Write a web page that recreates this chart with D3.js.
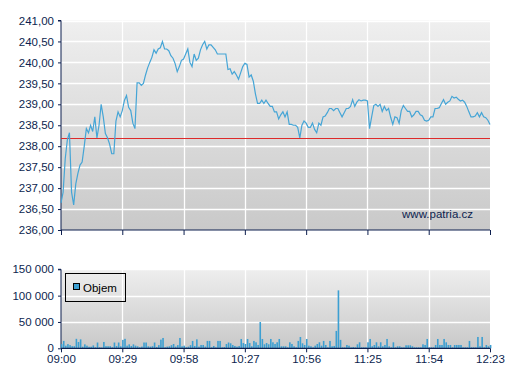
<!DOCTYPE html>
<html><head><meta charset="utf-8">
<script src="https://cdn.jsdelivr.net/npm/d3@7"></script>
<style>
html,body{margin:0;padding:0;background:#fff;}
svg{display:block;font-family:"Liberation Sans",Arial,sans-serif;}
</style></head>
<body><svg id="chart" width="507" height="380"></svg>
<script>
// ---- data ----
const startTime = "09:00";
const xTickLabels = ["09:00","09:29","09:58","10:27","10:56","11:25","11:54","12:23"];
const priceTicks = [236,236.5,237,237.5,238,238.5,239,239.5,240,240.5,241];
const volumeTicks = [0,50000,100000,150000];
const referencePrice = 238.2;
const legendLabel = "Objem";
const watermark = "www.patria.cz";
// one value per minute from 09:00
const priceValues = [
236.65,236.9,237.7,238.15,238.32,236.9,236.6,237.1,237.35,237.55,
237.62,238.0,238.42,238.32,238.5,238.35,238.7,238.2,238.5,239.0,
238.7,238.3,238.2,238.05,237.82,237.82,238.6,238.82,238.7,238.85,
239.09,239.21,238.93,238.85,238.55,238.42,239.51,239.51,239.45,239.5,
239.7,239.87,240.0,240.12,240.3,240.22,240.32,240.35,240.5,240.32,
240.32,240.28,240.16,240.1,239.97,239.78,239.9,240.05,240.08,240.2,
240.32,240.0,239.9,240.2,240.05,240.1,240.3,240.42,240.5,240.32,
240.42,240.42,240.36,240.3,240.2,240.2,240.2,240.2,240.2,239.83,
239.85,239.72,239.78,239.7,239.6,239.75,239.9,239.98,239.95,239.65,
239.7,239.55,239.25,239.02,239.02,239.1,239.02,239.1,239.02,238.95,
238.95,238.82,238.82,238.65,238.75,238.82,238.7,238.82,238.52,238.52,
238.5,238.5,238.45,238.2,238.5,238.6,238.55,238.45,238.45,238.55,
238.4,238.32,238.55,238.5,238.7,238.72,238.8,238.9,238.9,238.85,
238.9,238.9,238.8,238.7,238.8,238.9,238.9,238.95,239.11,238.95,
239.05,239.11,239.08,239.1,239.1,239.08,238.42,238.7,238.97,239.0,
238.95,239.0,238.83,238.95,238.85,238.9,238.69,238.52,238.7,238.68,
238.55,238.85,238.97,238.9,238.83,238.83,238.7,238.75,238.83,238.83,
238.75,238.72,238.62,238.6,238.62,238.7,238.7,238.9,238.9,238.92,
239.02,239.11,239.0,239.05,239.08,239.19,239.15,239.17,239.12,239.08,
239.1,239.05,238.95,238.82,238.7,238.7,238.72,238.8,238.7,238.8,
238.7,238.68,238.62,238.52];
const volumeValues = [
8000,14000,5000,8000,6000,4000,4000,18000,12000,17000,
3000,7500,5000,3000,3000,5500,2000,11000,2000,1500,
12000,4000,4000,4000,2000,11000,4400,11000,3800,16000,
18000,5000,7500,4400,7500,5000,3800,2000,3200,11000,
11000,3800,3200,4000,11000,2500,6000,16500,19600,2000,
3200,3800,6000,8200,3200,6000,19600,3800,5000,2000,
3200,6000,14000,4400,17000,3200,6300,6300,3200,14000,
14000,1900,4400,1900,14000,14000,1900,2500,8200,11000,
9500,6300,4400,3200,4400,17700,10000,8200,17700,10000,
3800,14000,11400,6300,50000,17700,7600,10000,7600,17700,
11400,8200,11400,17700,3800,3800,3800,1900,11400,8200,
3800,1900,14000,21500,9500,6300,17700,5000,3800,1900,
5000,8200,11400,5000,14000,6300,1900,14000,3800,4400,
33000,110000,16000,1900,1900,6300,5000,1900,2500,1900,
7600,11400,1900,1900,1900,11400,17700,3800,6300,11400,
3800,11400,3800,6300,17700,3800,1900,11400,1900,3800,
3800,1900,1900,5700,5700,5700,3800,1900,1900,1900,
1900,7600,6300,17700,1900,1900,1900,6300,17700,6300,
6300,17700,11400,6300,6300,1900,6300,6300,6300,6300,
1900,1900,1900,14000,1900,1900,1900,21500,3800,21500,
1900,6300,3800,6300];

// ---- helpers ----
const toMin = s => { const [h,m] = s.split(":").map(Number); return h*60+m; };
const t0 = toMin(startTime);
const tickMinutes = xTickLabels.map(s => toMin(s) - t0);
const fmtNum = d3.formatLocale({decimal:",", thousands:" ", grouping:[3], currency:["",""]});
const fmtPrice = fmtNum.format(",.2f");
const fmtVol = fmtNum.format(",.0f");

const svg = d3.select("#chart");
const navy = "#0d1f4f";
const L = 61, R = 490;
const x = d3.scaleLinear().domain([0, tickMinutes[tickMinutes.length-1]]).range([L, R]);
const y = d3.scaleLinear().domain([236, 241]).range([230, 20.5]);
const yv = d3.scaleLinear().domain([0, 150000]).range([348.3, 269.3]);

const defs = svg.append("defs");
function grad(id, c1, c2) {
  const g = defs.append("linearGradient").attr("id", id).attr("x1",0).attr("y1",0).attr("x2",0).attr("y2",1);
  g.append("stop").attr("offset","0%").attr("stop-color",c1);
  g.append("stop").attr("offset","100%").attr("stop-color",c2);
}
grad("bg1", "#efefef", "#c9c9c9");
grad("bg2", "#eeeeee", "#c9c9c9");

function panel(yScale, ticks, fmt, bgId, top, bottom) {
  svg.append("rect").attr("x", L).attr("y", top).attr("width", R - L).attr("height", bottom - top)
    .attr("fill", `url(#${bgId})`);
  // horizontal grid
  svg.append("g").selectAll("line").data(ticks.slice(1)).join("line")
    .attr("x1", L).attr("x2", R)
    .attr("y1", d => Math.round(yScale(d)) + 0.5).attr("y2", d => Math.round(yScale(d)) + 0.5)
    .attr("stroke", "#fff").attr("stroke-width", 1.3);
  // vertical grid
  svg.append("g").selectAll("line").data(tickMinutes.slice(1, -1)).join("line")
    .attr("x1", d => Math.round(x(d)) + 0.5).attr("x2", d => Math.round(x(d)) + 0.5)
    .attr("y1", top).attr("y2", bottom)
    .attr("stroke", "#fff").attr("stroke-width", 1.3);
  // y axis
  const ya = svg.append("g").attr("transform", `translate(${L},0)`)
    .call(d3.axisLeft(yScale).tickValues(ticks).tickFormat(fmt).tickSize(3).tickPadding(4));
  ya.select(".domain").attr("stroke", navy).attr("d", `M-3,${top}H0V${bottom}`);
  ya.selectAll(".tick line").attr("stroke", navy);
  ya.selectAll("text").attr("fill", navy).style("font-size", "11.5px")
    .style("font-family", '"Liberation Sans",Arial,sans-serif');
}

// ---- price panel ----
panel(y, priceTicks, fmtPrice, "bg1", y(241), y(236));
const xa1 = svg.append("g").attr("transform", `translate(0,${y(236)})`)
  .call(d3.axisBottom(x).tickValues(tickMinutes).tickFormat("").tickSize(5));
xa1.select(".domain").attr("stroke", navy).attr("d", `M${L},0H${R}`);
xa1.selectAll(".tick line").attr("stroke", navy);

svg.append("line").attr("x1", L).attr("x2", R)
  .attr("y1", Math.round(y(referencePrice)) + 0.5).attr("y2", Math.round(y(referencePrice)) + 0.5)
  .attr("stroke", "#dd2a2a").attr("stroke-width", 1.2);

svg.append("path").datum(priceValues)
  .attr("fill", "none").attr("stroke", "#45a5d6").attr("stroke-width", 1.2)
  .attr("d", d3.line().x((d, i) => x(i)).y(d => y(d)));

svg.append("text").attr("x", 473).attr("y", 218).attr("text-anchor", "end")
  .attr("fill", navy).style("font-size", "11.5px").text(watermark);

// ---- volume panel ----
panel(yv, volumeTicks, fmtVol, "bg2", yv(150000), yv(0));
svg.append("g").selectAll("rect").data(volumeValues).join("rect")
  .attr("x", (d, i) => x(i) - 0.2).attr("width", 1.6)
  .attr("y", d => yv(d)).attr("height", d => yv(0) - yv(d))
  .attr("fill", "#3c9fd2");

const xa2 = svg.append("g").attr("transform", `translate(0,${yv(0)})`)
  .call(d3.axisBottom(x).tickValues(tickMinutes).tickFormat((d, i) => xTickLabels[i]).tickSize(4).tickPadding(3));
xa2.select(".domain").attr("stroke", navy).attr("stroke-width", 1.3).attr("d", `M${L},0H${R}`);
xa2.selectAll(".tick line").attr("stroke", navy);
xa2.selectAll("text").attr("fill", navy).style("font-size", "11.5px")
  .style("font-family", '"Liberation Sans",Arial,sans-serif');

// legend
const lg = svg.append("g");
lg.append("rect").attr("x", 65.5).attr("y", 273.5).attr("width", 60).attr("height", 28)
  .attr("fill", "none").attr("stroke", "#000").attr("stroke-width", 1);
lg.append("rect").attr("x", 73.5).attr("y", 283.5).attr("width", 6).attr("height", 6)
  .attr("fill", "#3c9fd2").attr("stroke", "#000").attr("stroke-width", 1);
lg.append("text").attr("x", 83).attr("y", 292).attr("fill", "#000")
  .style("font-size", "11.5px").text(legendLabel);
</script>
</body></html>
